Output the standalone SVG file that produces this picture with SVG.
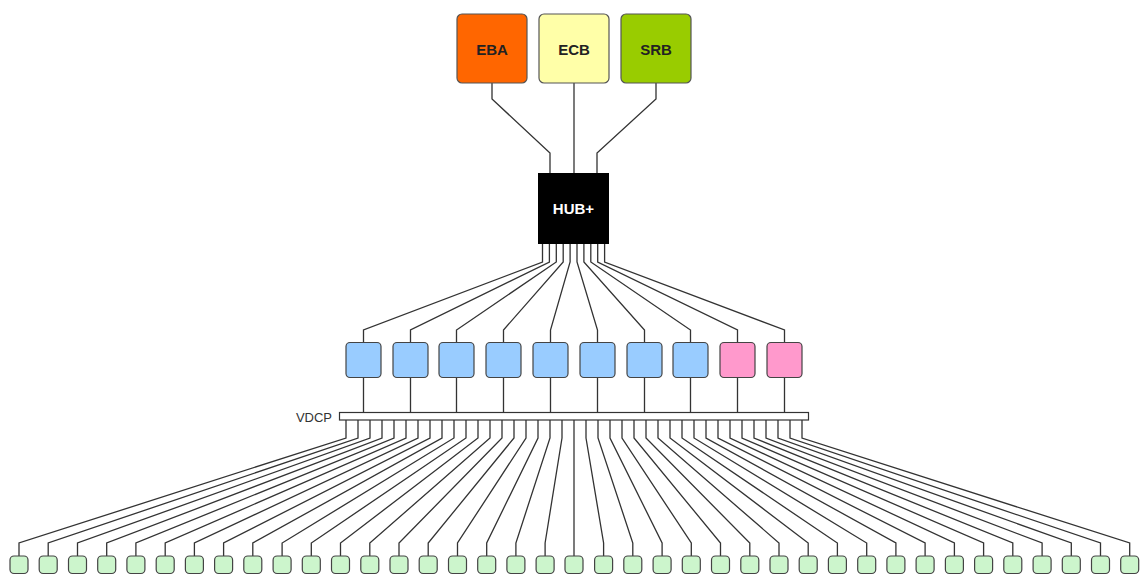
<svg xmlns="http://www.w3.org/2000/svg" width="1144" height="581" viewBox="0 0 1144 581">
<style>
.ln{fill:none;stroke:#333;stroke-width:1.3}
.top{stroke:#555;stroke-width:1.2}
.lbl{font-family:"Liberation Sans",Arial,sans-serif;font-weight:bold;font-size:15px;text-anchor:middle}
.mb{fill:#99ccff;stroke:#444;stroke-width:1.2}
.mp{fill:#ff99cc;stroke:#444;stroke-width:1.2}
.bb{fill:#ccf5cc;stroke:#444;stroke-width:1.2}
</style>
<rect width="1144" height="581" fill="#fff"/>
<g id="connectors" class="ln">
<path d="M492 83V99L550 153V173"/>
<path d="M574 83V173"/>
<path d="M656 83V99L597 153V173"/>
<path d="M542.5 244V262L363.5 330V342.5"/>
<path d="M549.4 244V262L410.5 330V342.5"/>
<path d="M556.3 244V262L456.5 330V342.5"/>
<path d="M563.2 244V262L503.5 330V342.5"/>
<path d="M570.1 244V262L550.5 330V342.5"/>
<path d="M577 244V262L597.5 330V342.5"/>
<path d="M583.9 244V262L644.5 330V342.5"/>
<path d="M590.8 244V262L690.5 330V342.5"/>
<path d="M597.7 244V262L737.5 330V342.5"/>
<path d="M604.6 244V262L784.5 330V342.5"/>
<path d="M363.5 377.5V412.5M410.5 377.5V412.5M456.5 377.5V412.5M503.5 377.5V412.5M550.5 377.5V412.5M597.5 377.5V412.5M644.5 377.5V412.5M690.5 377.5V412.5M737.5 377.5V412.5M784.5 377.5V412.5"/>
<path d="M346 420V438L19 543V556"/>
<path d="M358 420V438L48.2 543V556"/>
<path d="M370 420V438L77.5 543V556"/>
<path d="M382 420V438L106.7 543V556"/>
<path d="M394 420V438L135.9 543V556"/>
<path d="M406 420V438L165.2 543V556"/>
<path d="M418 420V438L194.4 543V556"/>
<path d="M430 420V438L223.6 543V556"/>
<path d="M442 420V438L252.8 543V556"/>
<path d="M454 420V438L282.1 543V556"/>
<path d="M466 420V438L311.3 543V556"/>
<path d="M478 420V438L340.5 543V556"/>
<path d="M490 420V438L369.8 543V556"/>
<path d="M502 420V438L399 543V556"/>
<path d="M514 420V438L428.2 543V556"/>
<path d="M526 420V438L457.5 543V556"/>
<path d="M538 420V438L486.7 543V556"/>
<path d="M550 420V438L515.9 543V556"/>
<path d="M562 420V438L545.1 543V556"/>
<path d="M574 420V556"/>
<path d="M586 420V438L603.6 543V556"/>
<path d="M598 420V438L632.8 543V556"/>
<path d="M610 420V438L662.1 543V556"/>
<path d="M622 420V438L691.3 543V556"/>
<path d="M634 420V438L720.5 543V556"/>
<path d="M646 420V438L749.8 543V556"/>
<path d="M658 420V438L779 543V556"/>
<path d="M670 420V438L808.2 543V556"/>
<path d="M682 420V438L837.4 543V556"/>
<path d="M694 420V438L866.7 543V556"/>
<path d="M706 420V438L895.9 543V556"/>
<path d="M718 420V438L925.1 543V556"/>
<path d="M730 420V438L954.4 543V556"/>
<path d="M742 420V438L983.6 543V556"/>
<path d="M754 420V438L1012.8 543V556"/>
<path d="M766 420V438L1042.1 543V556"/>
<path d="M778 420V438L1071.3 543V556"/>
<path d="M790 420V438L1100.5 543V556"/>
<path d="M802 420V438L1129.7 543V556"/>
</g>
<g id="EBA"><rect x="457" y="14" width="70" height="69" rx="5" fill="#ff6600" stroke="#555" stroke-width="1.2"/><text class="lbl" x="492" y="55" fill="#222">EBA</text></g>
<g id="ECB"><rect x="539" y="14" width="70" height="69" rx="5" fill="#ffffa8" stroke="#555" stroke-width="1.2"/><text class="lbl" x="574" y="55" fill="#222">ECB</text></g>
<g id="SRB"><rect x="621" y="14" width="70" height="69" rx="5" fill="#99cc00" stroke="#555" stroke-width="1.2"/><text class="lbl" x="656" y="55" fill="#222">SRB</text></g>
<g id="HUB"><rect x="538" y="173" width="71" height="71" fill="#000"/><text class="lbl" x="573.5" y="214" fill="#fff">HUB+</text></g>
<g id="mid">
<rect id="m1" class="mb" x="346" y="342.5" width="35" height="35" rx="4"/>
<rect id="m2" class="mb" x="393" y="342.5" width="35" height="35" rx="4"/>
<rect id="m3" class="mb" x="439" y="342.5" width="35" height="35" rx="4"/>
<rect id="m4" class="mb" x="486" y="342.5" width="35" height="35" rx="4"/>
<rect id="m5" class="mb" x="533" y="342.5" width="35" height="35" rx="4"/>
<rect id="m6" class="mb" x="580" y="342.5" width="35" height="35" rx="4"/>
<rect id="m7" class="mb" x="627" y="342.5" width="35" height="35" rx="4"/>
<rect id="m8" class="mb" x="673" y="342.5" width="35" height="35" rx="4"/>
<rect id="m9" class="mp" x="720" y="342.5" width="35" height="35" rx="4"/>
<rect id="m10" class="mp" x="767" y="342.5" width="35" height="35" rx="4"/>
</g>
<g id="VDCP"><rect x="339.5" y="412.5" width="469" height="7.5" fill="#fff" stroke="#333" stroke-width="1.2"/><text x="332" y="422" font-family="Liberation Sans, Arial, sans-serif" font-size="13" fill="#333" text-anchor="end">VDCP</text></g>
<g id="leaves">
<rect class="bb" x="10" y="556" width="18" height="17.5" rx="4"/>
<rect class="bb" x="39.2" y="556" width="18" height="17.5" rx="4"/>
<rect class="bb" x="68.5" y="556" width="18" height="17.5" rx="4"/>
<rect class="bb" x="97.7" y="556" width="18" height="17.5" rx="4"/>
<rect class="bb" x="126.9" y="556" width="18" height="17.5" rx="4"/>
<rect class="bb" x="156.2" y="556" width="18" height="17.5" rx="4"/>
<rect class="bb" x="185.4" y="556" width="18" height="17.5" rx="4"/>
<rect class="bb" x="214.6" y="556" width="18" height="17.5" rx="4"/>
<rect class="bb" x="243.8" y="556" width="18" height="17.5" rx="4"/>
<rect class="bb" x="273.1" y="556" width="18" height="17.5" rx="4"/>
<rect class="bb" x="302.3" y="556" width="18" height="17.5" rx="4"/>
<rect class="bb" x="331.5" y="556" width="18" height="17.5" rx="4"/>
<rect class="bb" x="360.8" y="556" width="18" height="17.5" rx="4"/>
<rect class="bb" x="390" y="556" width="18" height="17.5" rx="4"/>
<rect class="bb" x="419.2" y="556" width="18" height="17.5" rx="4"/>
<rect class="bb" x="448.5" y="556" width="18" height="17.5" rx="4"/>
<rect class="bb" x="477.7" y="556" width="18" height="17.5" rx="4"/>
<rect class="bb" x="506.9" y="556" width="18" height="17.5" rx="4"/>
<rect class="bb" x="536.1" y="556" width="18" height="17.5" rx="4"/>
<rect class="bb" x="565" y="556" width="18" height="17.5" rx="4"/>
<rect class="bb" x="594.6" y="556" width="18" height="17.5" rx="4"/>
<rect class="bb" x="623.8" y="556" width="18" height="17.5" rx="4"/>
<rect class="bb" x="653.1" y="556" width="18" height="17.5" rx="4"/>
<rect class="bb" x="682.3" y="556" width="18" height="17.5" rx="4"/>
<rect class="bb" x="711.5" y="556" width="18" height="17.5" rx="4"/>
<rect class="bb" x="740.8" y="556" width="18" height="17.5" rx="4"/>
<rect class="bb" x="770" y="556" width="18" height="17.5" rx="4"/>
<rect class="bb" x="799.2" y="556" width="18" height="17.5" rx="4"/>
<rect class="bb" x="828.4" y="556" width="18" height="17.5" rx="4"/>
<rect class="bb" x="857.7" y="556" width="18" height="17.5" rx="4"/>
<rect class="bb" x="886.9" y="556" width="18" height="17.5" rx="4"/>
<rect class="bb" x="916.1" y="556" width="18" height="17.5" rx="4"/>
<rect class="bb" x="945.4" y="556" width="18" height="17.5" rx="4"/>
<rect class="bb" x="974.6" y="556" width="18" height="17.5" rx="4"/>
<rect class="bb" x="1003.8" y="556" width="18" height="17.5" rx="4"/>
<rect class="bb" x="1033.1" y="556" width="18" height="17.5" rx="4"/>
<rect class="bb" x="1062.3" y="556" width="18" height="17.5" rx="4"/>
<rect class="bb" x="1091.5" y="556" width="18" height="17.5" rx="4"/>
<rect class="bb" x="1120.7" y="556" width="18" height="17.5" rx="4"/>
</g>
</svg>
